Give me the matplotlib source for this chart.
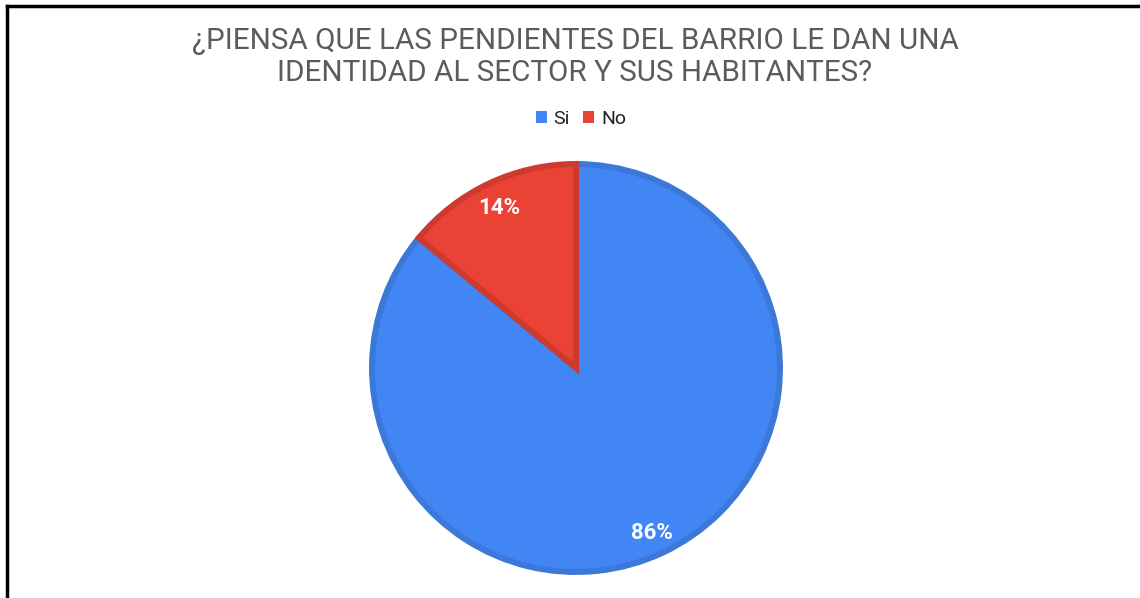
"""Pie chart: neighbourhood slopes and identity survey."""

import matplotlib

matplotlib.use("Agg")
import matplotlib.pyplot as plt
from matplotlib.lines import Line2D
from matplotlib.patches import Patch

LABELS = ["Si", "No"]
SHARES = [86, 14]
FILL_COLORS = ["#4285F4", "#EA4335"]
EDGE_COLORS = ["#3C78D8", "#CC3A30"]
TITLE = "¿PIENSA QUE LAS PENDIENTES DEL BARRIO LE DAN UNA\nIDENTIDAD AL SECTOR Y SUS HABITANTES?"

W, H = 1140, 598
plt.rcParams["font.family"] = ["Roboto", "DejaVu Sans"]

fig = plt.figure(figsize=(W / 100, H / 100), dpi=100)
fig.patch.set_facecolor("white")

# pie box in pixels: centre (576, 368), radius 207
cx, cy, r = 576, 368, 207
edge_w = 4.3  # points, about 6 px
ax = fig.add_axes([(cx - r) / W, (H - cy - r) / H, 2 * r / W, 2 * r / H])

wedges, texts = ax.pie(
    SHARES,
    colors=FILL_COLORS,
    startangle=90,
    counterclock=False,
    radius=1 - 3 / r,
    labels=[f"{v}%" for v in SHARES],
    labeldistance=0.88,
    textprops={"color": "white", "fontsize": 16, "fontweight": "bold"},
    wedgeprops={"linewidth": edge_w},
)
for wedge, edge in zip(wedges, EDGE_COLORS):
    wedge.set_edgecolor(edge)
    wedge.set_joinstyle("miter")
for t in texts:
    t.set_ha("center")
    t.set_va("center_baseline")
ax.set_xlim(-1, 1)
ax.set_ylim(-1, 1)
ax.set_aspect("equal")

fig.text(575 / W, 1 - 57 / H, TITLE, ha="center", va="center",
         fontsize=21.3, color="#5B5B5B", linespacing=1.15)

handles = [Patch(facecolor=c, edgecolor="none") for c in FILL_COLORS]
fig.legend(handles, LABELS, loc="center", bbox_to_anchor=(581 / W, 1 - 119 / H),
           ncol=2, frameon=False, fontsize=14, handlelength=0.55, handleheight=0.55,
           handletextpad=0.35, columnspacing=0.7, labelcolor="#222222")

# frame lines (left and top edges of the screenshot)
fig.add_artist(Line2D([7 / W, 7 / W], [0, 1 - 6 / H], color="black", lw=2.5,
                      transform=fig.transFigure))
fig.add_artist(Line2D([7 / W, 1], [1 - 6 / H, 1 - 6 / H], color="black", lw=2.5,
                      transform=fig.transFigure))

fig.savefig("out.png", dpi=100)
